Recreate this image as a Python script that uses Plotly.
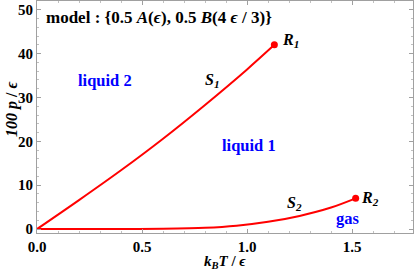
import plotly.graph_objects as go

# S1 coexistence line (liquid 2 / liquid 1)
s1_T = [0.0, 0.2, 0.4, 0.6, 0.8, 1.0, 1.130]
s1_p = [0.0, 6.6, 13.4, 20.6, 28.3, 36.4, 42.0]
# S2 coexistence line (liquid 1 / gas)
s2_T = [0.0, 0.4, 0.6, 0.8, 0.95, 1.1, 1.25, 1.4, 1.517]
s2_p = [0.0, 0.02, 0.08, 0.28, 0.75, 1.65, 3.0, 4.9, 7.0]
# critical points
crit_T = [1.130, 1.517]
crit_p = [42.0, 7.0]
crit_labels = ["R<sub>1</sub>", "R<sub>2</sub>"]

x_ticks = [0.0, 0.5, 1.0, 1.5]
y_ticks = [0, 10, 20, 30, 40, 50]

RED = "#ff0000"
BLUE = "#0000ff"
FONT = "Liberation Serif, Times New Roman, DejaVu Serif, serif"

fig = go.Figure()
fig.add_trace(go.Scatter(x=s1_T, y=s1_p, mode="lines", line=dict(color=RED, width=2, shape="spline", smoothing=1.0),
                         showlegend=False, hoverinfo="skip"))
fig.add_trace(go.Scatter(x=s2_T, y=s2_p, mode="lines", line=dict(color=RED, width=2, shape="spline", smoothing=0.8),
                         showlegend=False, hoverinfo="skip"))
fig.add_trace(go.Scatter(x=crit_T, y=crit_p, mode="markers", marker=dict(color=RED, size=7),
                         showlegend=False, hoverinfo="skip"))

ann = []
def txt(x, y, t, size=14, color="black", xanchor="center"):
    ann.append(dict(x=x, y=y, xref="x", yref="y", text=t, showarrow=False,
                    xanchor=xanchor, yanchor="middle",
                    font=dict(family=FONT, size=size, color=color)))

txt(0.032, 48.2, "<b>model : {0.5 <i>A</i>(<i>ϵ</i>), 0.5 <i>B</i>(4 <i>ϵ</i> / 3)}</b>", size=17, xanchor="left")
txt(0.325, 33.9, "<b>liquid 2</b>", size=16.5, color=BLUE)
txt(1.008, 19.1, "<b>liquid 1</b>", size=16.5, color=BLUE)
txt(1.48, 2.3, "<b>gas</b>", size=16.5, color=BLUE)
txt(0.834, 33.9, "<b><i>S<sub>1</sub></i></b>", size=16)
txt(1.225, 5.9, "<b><i>S<sub>2</sub></i></b>", size=16)
txt(1.208, 43.0, "<b><i>" + crit_labels[0] + "</i></b>", size=16)
txt(1.584, 7.0, "<b><i>" + crit_labels[1] + "</i></b>", size=16)

# axis labels
ann.append(dict(x=0.5, y=0.0, xref="paper", yref="paper", yshift=-29, text="<b><i>k<sub>B</sub>T</i> / <i>ϵ</i></b>",
                showarrow=False, xanchor="center", yanchor="middle", font=dict(family=FONT, size=15, color="black")))
ann.append(dict(x=0, y=0.53, xref="paper", yref="paper", xshift=-25, text="<b><i>100 p</i> / <i>ϵ</i></b>", textangle=-90,
                showarrow=False, xanchor="center", yanchor="middle", font=dict(family=FONT, size=16, color="black")))

axis_common = dict(showgrid=False, zeroline=False, showline=True, linecolor="#a0a0a0", linewidth=1,
                   mirror="allticks", ticks="inside", ticklen=4, tickcolor="#a0a0a0",
                   tickfont=dict(family=FONT, size=15, color="black"))

fig.update_layout(
    width=415, height=271,
    margin=dict(l=37, r=2, t=1, b=38),
    paper_bgcolor="white", plot_bgcolor="white",
    font=dict(family=FONT),
    xaxis=dict(range=[0, 1.79], tickvals=x_ticks, ticktext=["<b>%.1f</b>" % v for v in x_ticks],
               minor=dict(dtick=0.1, ticks="inside", ticklen=2, tickcolor="#c0c0c0"), **axis_common),
    yaxis=dict(range=[-0.9, 52], tickvals=y_ticks, ticktext=["<b>%d</b>" % v for v in y_ticks],
               minor=dict(dtick=2, ticks="inside", ticklen=2, tickcolor="#c0c0c0"), **axis_common),
    annotations=ann,
)

fig.write_html("out.html", config={"displayModeBar": False},
               post_script="document.body.style.margin='0';document.body.style.overflow='hidden';")
